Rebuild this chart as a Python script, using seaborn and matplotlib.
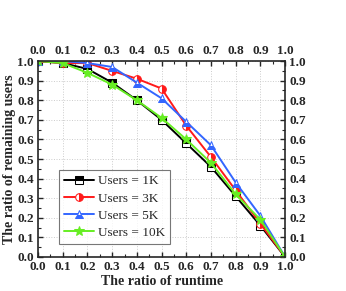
import numpy as np
import pandas as pd
import seaborn as sns
import matplotlib.pyplot as plt
from matplotlib.ticker import MultipleLocator

# values
runtime = [0.0, 0.1, 0.2, 0.3, 0.4, 0.5, 0.6, 0.7, 0.8, 0.9, 1.0]
users_1k = [1.0, 0.99, 0.96, 0.89, 0.80, 0.70, 0.58, 0.46, 0.31, 0.16, 0.0]
users_3k = [1.0, 0.99, 0.99, 0.95, 0.91, 0.86, 0.67, 0.51, 0.34, 0.17, 0.0]
users_5k = [1.0, 1.0, 0.99, 0.97, 0.89, 0.81, 0.69, 0.57, 0.38, 0.21, 0.0]
users_10k = [1.0, 0.99, 0.94, 0.88, 0.80, 0.71, 0.60, 0.48, 0.32, 0.19, 0.0]

labels = ["Users = 1K", "Users = 3K", "Users = 5K", "Users = 10K"]
series = [users_1k, users_3k, users_5k, users_10k]
colors = ["black", "#ff1a1a", "#3366ff", "#66ee22"]
markers = ["s", "o", "^", "*"]
fills = ["top", "right", "bottom", "full"]

df = pd.concat(
    [pd.DataFrame({"runtime": runtime, "remaining": s, "users": lab})
     for lab, s in zip(labels, series)]
)

sns.set_style("ticks")
plt.rcParams["font.family"] = ["Liberation Serif", "DejaVu Serif"]
plt.rcParams["font.weight"] = "bold"

fig = plt.figure(figsize=(3.46, 2.91), dpi=100)
ax = fig.add_axes([0.110, 0.117, 0.714, 0.673])

for lab, c, m, f in zip(labels, colors, markers, fills):
    sns.lineplot(data=df[df["users"] == lab], x="runtime", y="remaining",
                 color=c, marker=m, fillstyle=f, markerfacecoloralt="white",
                 markeredgecolor=c, markersize=7.5 if m == "*" else 5.5,
                 linewidth=1.4, label=lab, ax=ax)

ax.set_xlim(0, 1)
ax.set_ylim(0, 1)
ax.xaxis.set_major_locator(MultipleLocator(0.1))
ax.yaxis.set_major_locator(MultipleLocator(0.1))
ax.xaxis.set_minor_locator(MultipleLocator(0.05))
ax.yaxis.set_minor_locator(MultipleLocator(0.05))
ax.xaxis.set_major_formatter(lambda v, p: f"{v:.1f}")
ax.yaxis.set_major_formatter(lambda v, p: f"{v:.1f}")
ax.tick_params(which="both", direction="in", top=True, right=True,
               labeltop=True, labelright=True, labelsize=9.5)
ax.tick_params(axis="x", pad=3)
ax.tick_params(axis="y", pad=3)
ax.tick_params(which="major", length=3.5, width=1)
ax.tick_params(which="minor", length=2, width=0.8)
for lbl in ax.get_xticklabels() + ax.get_yticklabels():
    lbl.set_fontweight("bold")
for sp in ax.spines.values():
    sp.set_linewidth(1.2)
ax.grid(True, linestyle=":", color="#cccccc", linewidth=0.7)

ax.set_xlabel("The ratio of runtime", fontsize=10, fontweight="bold", labelpad=1)
ax.set_ylabel("The ratio of remaining users", fontsize=10, fontweight="bold", labelpad=1)

leg = ax.legend(loc="lower left", bbox_to_anchor=(0.085, 0.068), fontsize=9.5,
                frameon=True, fancybox=False, edgecolor="#555555",
                handlelength=2.3, borderpad=0.35, labelspacing=0.38,
                handletextpad=0.3, borderaxespad=0)
leg.get_frame().set_linewidth(0.8)
for t in leg.get_texts():
    t.set_fontweight("normal")

fig.savefig("out.png", dpi=100)
